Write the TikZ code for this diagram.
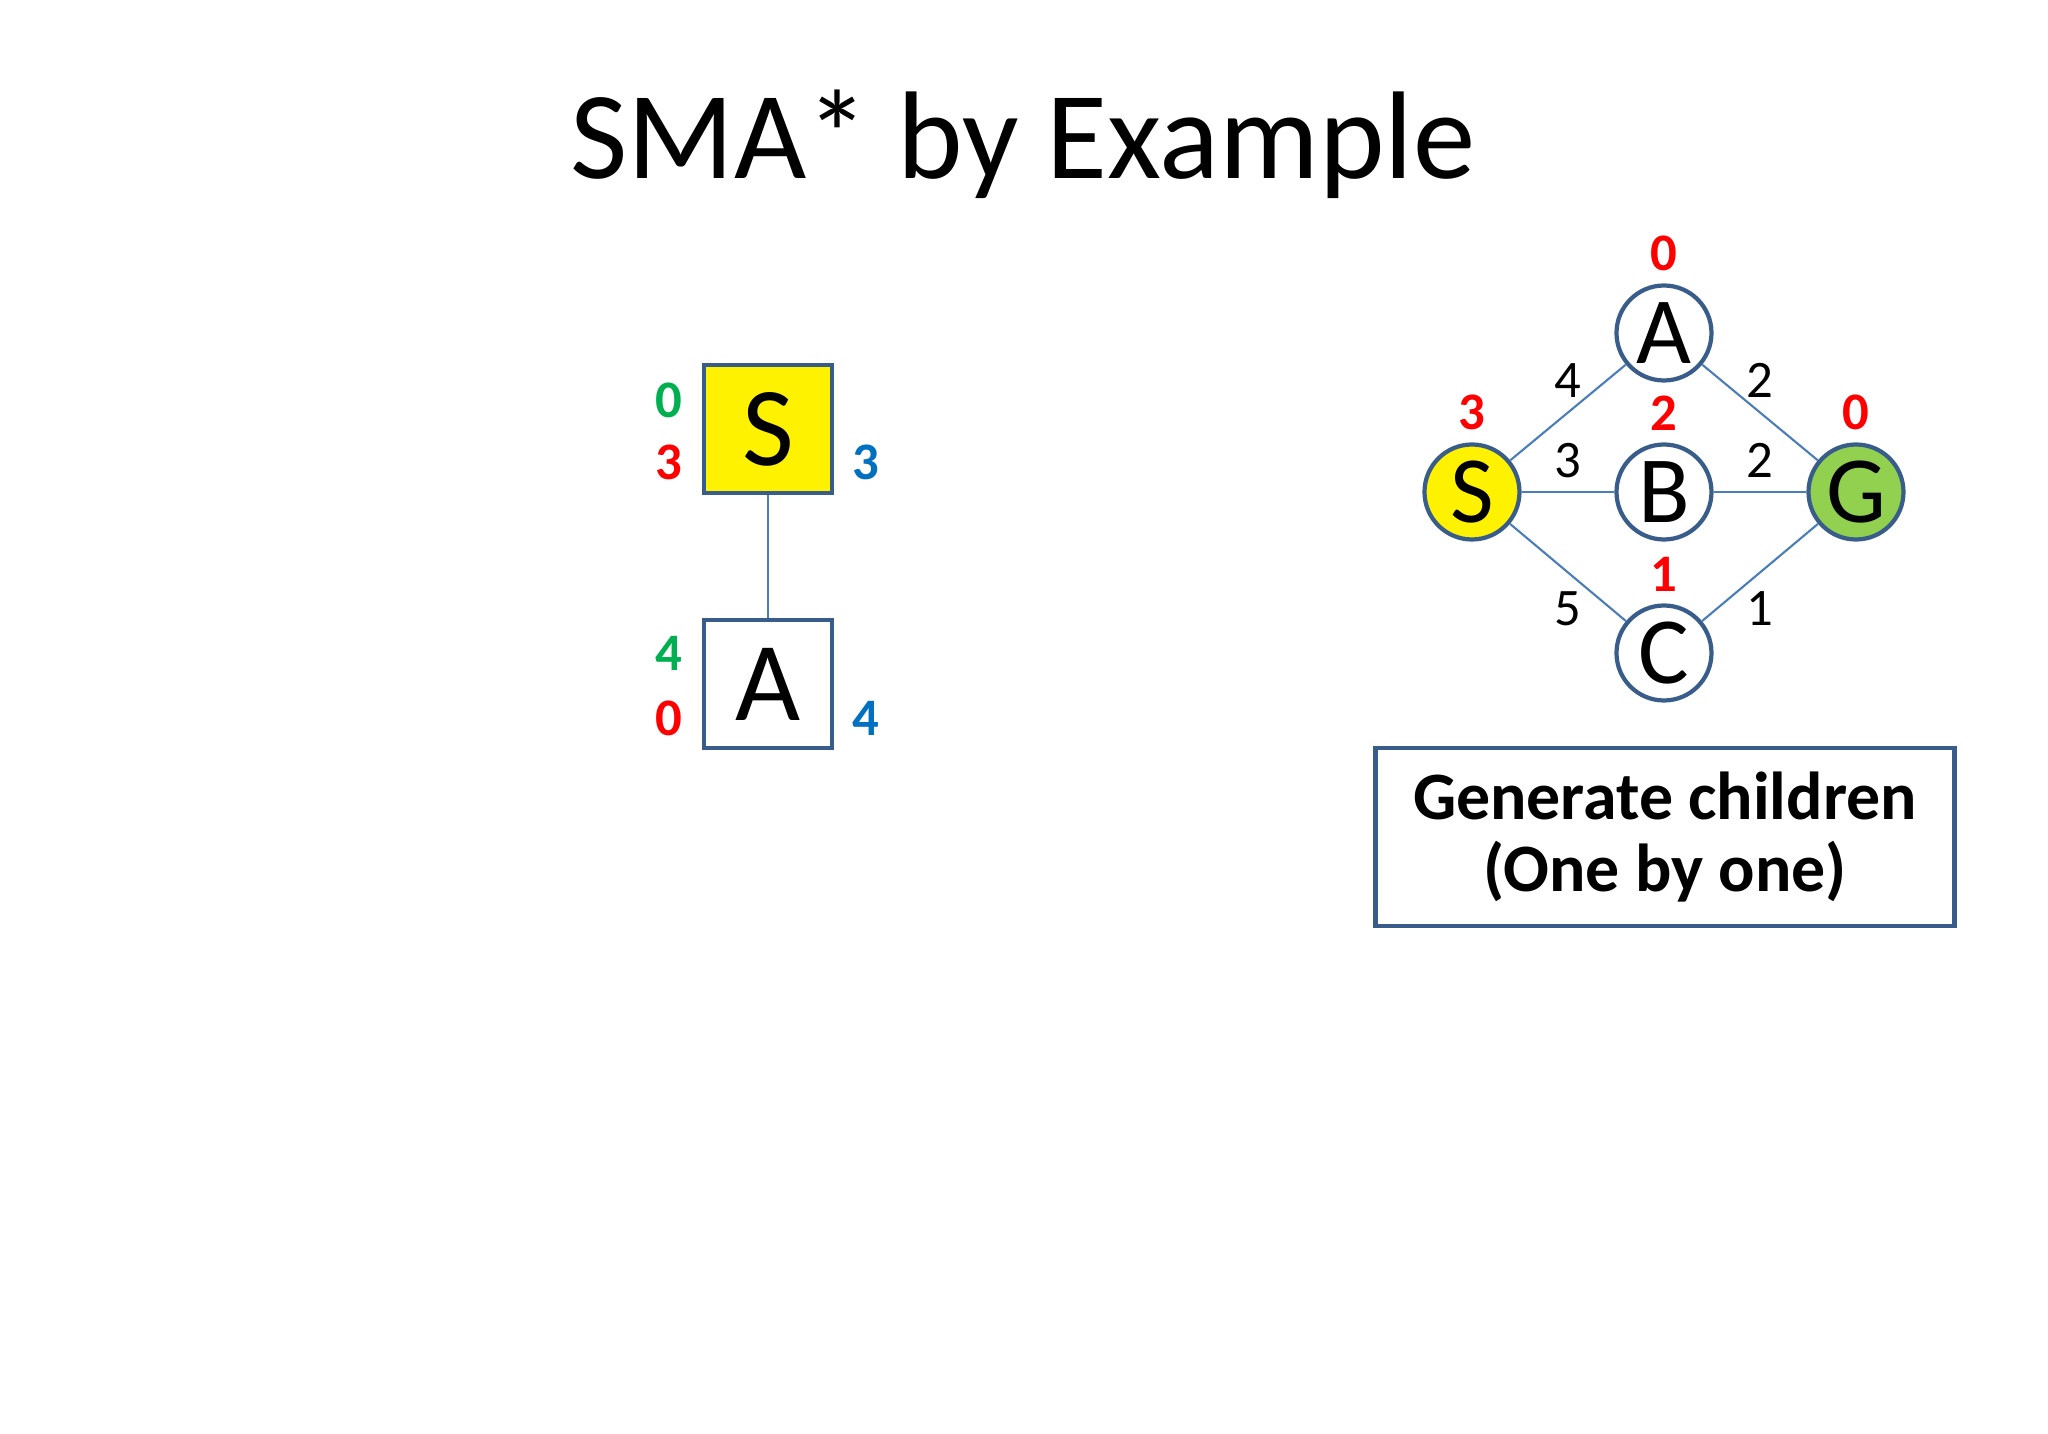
\documentclass[tikz,border=0pt]{standalone}
\usepackage{fontspec}
\setmainfont{Carlito}
\usepackage{tikz}
\usetikzlibrary{positioning,shapes.geometric}
\usepackage{xcolor}
\definecolor{edgeblue}{HTML}{4A7EBB}
\definecolor{borderblue}{HTML}{385D8A}
\definecolor{gcolor}{HTML}{00B050}
\definecolor{hcolor}{HTML}{FF0000}
\definecolor{fcolor}{HTML}{0070C0}
\definecolor{goalgreen}{HTML}{92D050}

\begin{document}
\begin{tikzpicture}[
    treenode/.style={rectangle, draw=borderblue, line width=1.2pt, fill=white, minimum size=1.28cm, inner sep=0pt, font=\fontsize{32}{32}\selectfont},
    graphnode/.style={circle, draw=borderblue, line width=1.2pt, fill=white, minimum size=0.95cm, inner sep=0pt, font=\fontsize{27}{27}\selectfont},
    gval/.style={text=gcolor, inner sep=1pt, font=\fontsize{15}{15}\selectfont\bfseries},
    hval/.style={text=hcolor, inner sep=1pt, font=\fontsize{15}{15}\selectfont\bfseries},
    fval/.style={text=fcolor, inner sep=1pt, font=\fontsize{15}{15}\selectfont\bfseries},
    weight/.style={inner sep=1pt, font=\fontsize{15}{15}\selectfont},
    edge/.style={draw=edgeblue, line width=0.6pt},
    infobox/.style={rectangle, draw=borderblue, line width=1.2pt, minimum width=5.79cm, minimum height=1.78cm, align=center, font=\fontsize{19.3}{20.5}\selectfont\bfseries}
]
\useasboundingbox (0,0) rectangle (20.48,14.34);

% Title
\node[anchor=base, font=\fontsize{35.5}{35.5}\selectfont] (title) at (10.23,12.55) {SMA* by Example};

% Search tree
\node[treenode, fill=yellow] (tS) at (7.68,10.05) {S};
\node[treenode] (tA) at (7.68,7.50) {A};
\draw[edge] (tS) -- (tA);

\node[gval, left=0.15cm of tS.west, yshift=0.29cm] (tSg) {0};
\node[hval, left=0.15cm of tS.west, yshift=-0.33cm] (tSh) {3};
\node[fval, right=0.14cm of tS.east, yshift=-0.33cm] (tSf) {3};
\node[gval, left=0.15cm of tA.west, yshift=0.31cm] (tAg) {4};
\node[hval, left=0.15cm of tA.west, yshift=-0.34cm] (tAh) {0};
\node[fval, right=0.14cm of tA.east, yshift=-0.34cm] (tAf) {4};

% Problem graph
\node[graphnode, fill=yellow] (gS) at (14.72,9.42) {S};
\node[graphnode] (gA) at (16.64,11.01) {A};
\node[graphnode] (gB) at (16.64,9.42) {B};
\node[graphnode] (gC) at (16.64,7.81) {C};
\node[graphnode, fill=goalgreen] (gG) at (18.56,9.42) {G};

\node[hval, above=0.08cm of gA] (hA) {0};
\node[hval, above=0.08cm of gS] (hS) {3};
\node[hval, above=0.08cm of gB] (hB) {2};
\node[hval, above=0.08cm of gG] (hG) {0};
\node[hval, above=0.08cm of gC] (hC) {1};

\draw[edge] (gS) -- node[weight, above=0.1cm] {4} (gA);
\draw[edge] (gA) -- node[weight, above=0.1cm] {2} (gG);
\draw[edge] (gS) -- node[weight, above=0.1cm] {3} (gB);
\draw[edge] (gB) -- node[weight, above=0.1cm] {2} (gG);
\draw[edge] (gS) -- node[weight, below=0.15cm] {5} (gC);
\draw[edge] (gC) -- node[weight, below=0.15cm] {1} (gG);

% Step description
\node[infobox] (step) at (16.65,5.97) {Generate children\\(One by one)};

\end{tikzpicture}
\end{document}
